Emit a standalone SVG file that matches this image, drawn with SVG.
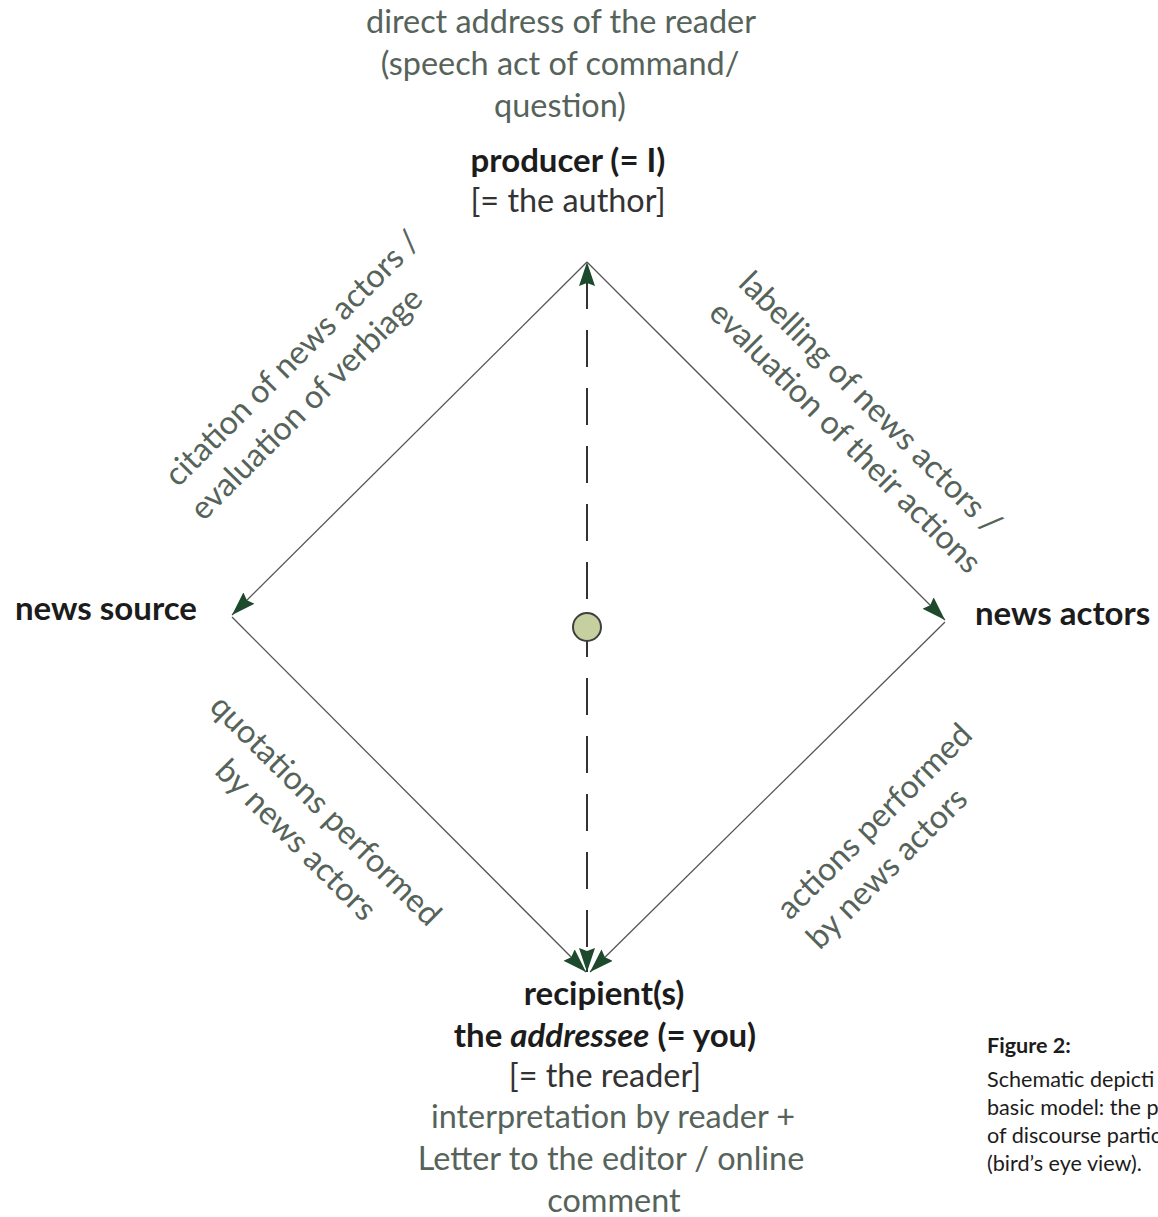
<svg xmlns="http://www.w3.org/2000/svg" width="1158" height="1217" viewBox="0 0 1158 1217">
<style>
  text { font-family: Lato, "Open Sans", "Liberation Sans", sans-serif; }
  .lbl { font-size: 32.4px; fill: #56635a; }
  .node { font-size: 33px; fill: #1c1c1c; font-weight: bold; }
  .sub { font-size: 32.4px; fill: #333; }
  .edge { stroke: #555; stroke-width: 1.3; fill: none; }
  .dash { stroke: #333; stroke-width: 2; fill: none; stroke-dasharray: 37 21; stroke-dashoffset: 48; }
  .cap { font-size: 21.6px; fill: #1c1c1c; }
</style>
<defs>
  <marker id="arr" viewBox="0 0 24 16" refX="24" refY="8" markerWidth="24" markerHeight="16" markerUnits="userSpaceOnUse" orient="auto-start-reverse">
    <path d="M0,0 L24,8 L0,16 L3,8 z" fill="#1d4a2c"/>
  </marker>
</defs>
<rect width="1158" height="1217" fill="#fff"/>

<g id="connectors">
  <line class="edge" x1="587" y1="262" x2="232" y2="615" marker-end="url(#arr)"/>
  <line class="edge" x1="587" y1="262" x2="945" y2="620" marker-end="url(#arr)"/>
  <line class="edge" x1="232" y1="617" x2="586" y2="972" marker-end="url(#arr)"/>
  <line class="edge" x1="945" y1="622" x2="590" y2="972" marker-end="url(#arr)"/>
  <line class="dash" x1="587" y1="262" x2="587" y2="972" marker-start="url(#arr)" marker-end="url(#arr)"/>
</g>

<g id="center-point">
  <circle cx="587" cy="627" r="14" fill="#c5cf9f" stroke="#3f3f3f" stroke-width="2"/>
</g>

<g id="producer">
  <text class="lbl" text-anchor="middle" x="561" y="33">direct address of the reader</text>
  <text class="lbl" text-anchor="middle" x="560" y="75">(speech act of command/</text>
  <text class="lbl" text-anchor="middle" x="560" y="117">question)</text>
  <text class="node" text-anchor="middle" x="568" y="172">producer (= I)</text>
  <text class="sub" text-anchor="middle" x="568" y="212">[= the author]</text>
</g>

<g id="news-source">
  <text class="node" x="15" y="620">news source</text>
</g>

<g id="news-actors">
  <text class="node" x="975" y="625">news actors</text>
</g>

<g id="recipient">
  <text class="node" text-anchor="middle" x="604" y="1005">recipient(s)</text>
  <text class="node" text-anchor="middle" x="605" y="1047">the <tspan font-style="italic">addressee</tspan> (= you)</text>
  <text class="sub" text-anchor="middle" x="605" y="1087">[= the reader]</text>
  <text class="lbl" text-anchor="middle" x="613" y="1128">interpretation by reader +</text>
  <text class="lbl" text-anchor="middle" x="611" y="1170">Letter to the editor / online</text>
  <text class="lbl" text-anchor="middle" x="614" y="1212">comment</text>
</g>

<g id="label-citation" transform="translate(178,488) rotate(-45)">
  <text class="lbl" x="0" y="0">citation of news actors /</text>
  <text class="lbl" x="-6" y="42">evaluation of verbiage</text>
</g>

<g id="label-labelling" transform="translate(737,285) rotate(45)">
  <text class="lbl" x="0" y="0">labelling of news actors /</text>
  <text class="lbl" x="0" y="42">evaluation of their actions</text>
</g>

<g id="label-quotations" transform="translate(318,818) rotate(45)">
  <text class="lbl" text-anchor="middle" x="0" y="0">quotations performed</text>
  <text class="lbl" text-anchor="middle" x="0" y="42">by news actors</text>
</g>

<g id="label-actions" transform="translate(790,921) rotate(-45)">
  <text class="lbl" x="0" y="0">actions performed</text>
  <text class="lbl" x="0" y="42">by news actors</text>
</g>

<g id="caption">
  <text class="cap" font-weight="bold" font-size="24.5px" x="987" y="1053">Figure 2:</text>
  <text class="cap" x="987" y="1087">Schematic depicti</text>
  <text class="cap" x="987" y="1115">basic model: the p</text>
  <text class="cap" x="987" y="1143">of discourse partic</text>
  <text class="cap" x="987" y="1171">(bird’s eye view).</text>
</g>
</svg>
